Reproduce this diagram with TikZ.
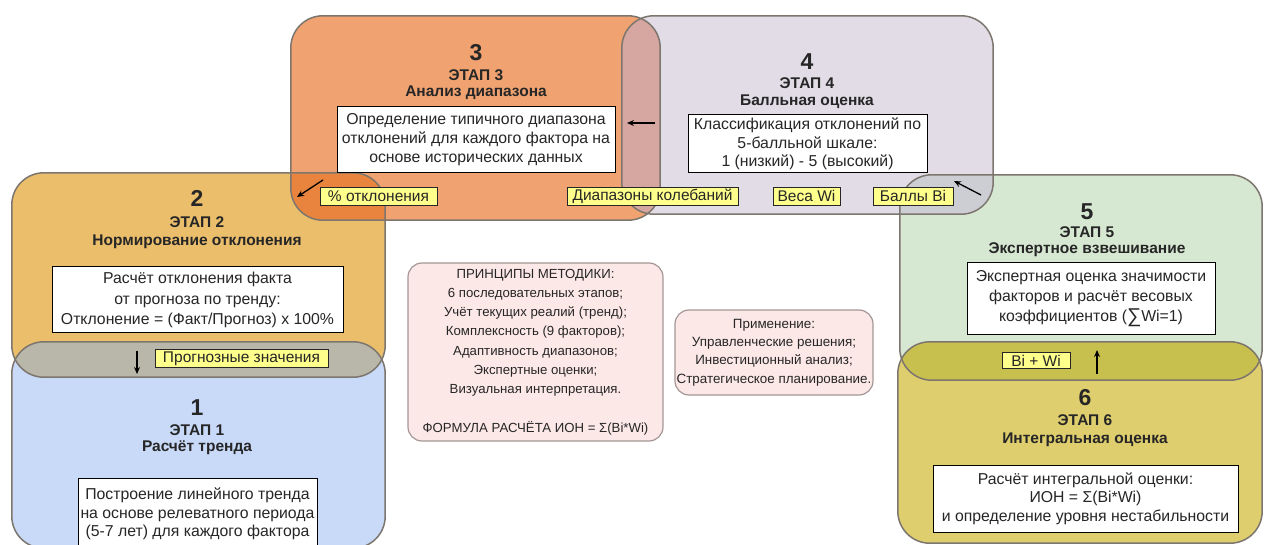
\documentclass[tikz,border=0pt]{standalone}
\usepackage{fontspec}
\setmainfont{Liberation Sans}
\usetikzlibrary{arrows.meta}

% stage fills
\definecolor{stOne}{RGB}{200,218,248}
\definecolor{stTwo}{RGB}{235,190,108}
\definecolor{stThree}{RGB}{240,162,112}
\definecolor{stFour}{RGB}{225,220,230}
\definecolor{stFive}{RGB}{215,232,210}
\definecolor{stSix}{RGB}{222,206,110}
% where two stages overlap
\definecolor{ovOneTwo}{RGB}{185,182,170}
\definecolor{ovTwoThree}{RGB}{232,132,62}
\definecolor{ovThreeFour}{RGB}{214,166,160}
\definecolor{ovFourFive}{RGB}{205,205,212}
\definecolor{ovFiveSix}{RGB}{200,192,78}
\definecolor{edgeGrey}{RGB}{125,118,110}
\definecolor{tagYellow}{RGB}{255,255,140}
\definecolor{notePink}{RGB}{253,232,232}
\definecolor{noteEdge}{RGB}{165,150,150}

\begin{document}
\begin{tikzpicture}[x=1pt,y=-1pt,
  stagefill/.style={rectangle,rounded corners=32pt,inner sep=0pt},
  outline/.style={draw=edgeGrey,line width=1.5pt,rounded corners=32pt},
  num/.style={font=\fontsize{23}{26}\selectfont\bfseries,text=black!85},
  stg/.style={font=\fontsize{15.5}{18}\selectfont\bfseries,text=black!85},
  whitebox/.style={rectangle,draw=black,line width=1pt,fill=white,align=center,
    inner sep=0pt,font=\fontsize{15.8}{19}\selectfont,text=black!85},
  tag/.style={rectangle,draw=black!85,line width=0.9pt,fill=tagYellow,
    inner sep=0pt,minimum height=18pt,font=\fontsize{15.5}{17}\selectfont,text=black!85},
  note/.style={rectangle,rounded corners=14pt,draw=noteEdge,line width=1.2pt,
    fill=notePink,align=center,inner sep=0pt,text=black!85},
  arr/.style={line width=1.3pt,-{Stealth[length=7pt,width=6pt]}}
]
\useasboundingbox (0,0) rectangle (1264,545);

% stage areas
\node[stagefill,fill=stThree,minimum width=369pt,minimum height=204pt] (b3) at (475.5,118) {};
\node[stagefill,fill=stFour,minimum width=371pt,minimum height=198pt] (b4) at (807.5,115) {};
\node[stagefill,fill=stTwo,minimum width=373pt,minimum height=204pt] (b2) at (198.5,275) {};
\node[stagefill,fill=stOne,minimum width=373pt,minimum height=206pt] (b1) at (198.5,445) {};
\node[stagefill,fill=stFive,minimum width=362pt,minimum height=205pt] (b5) at (1081,277.5) {};
\node[stagefill,fill=stSix,minimum width=364pt,minimum height=201pt] (b6) at (1080,442.5) {};

% overlapping parts
\begin{scope}
  \clip[rounded corners=32pt] (b2.south west) rectangle (b2.north east);
  \fill[ovTwoThree,rounded corners=32pt] (b3.south west) rectangle (b3.north east);
\end{scope}
\begin{scope}
  \clip[rounded corners=32pt] (b3.south west) rectangle (b3.north east);
  \fill[ovThreeFour,rounded corners=32pt] (b4.south west) rectangle (b4.north east);
\end{scope}
\begin{scope}
  \clip[rounded corners=32pt] (b4.south west) rectangle (b4.north east);
  \fill[ovFourFive,rounded corners=32pt] (b5.south west) rectangle (b5.north east);
\end{scope}
\begin{scope}
  \clip[rounded corners=32pt] (b1.south west) rectangle (b1.north east);
  \fill[ovOneTwo,rounded corners=32pt] (b2.south west) rectangle (b2.north east);
\end{scope}
\begin{scope}
  \clip[rounded corners=32pt] (b5.south west) rectangle (b5.north east);
  \fill[ovFiveSix,rounded corners=32pt] (b6.south west) rectangle (b6.north east);
\end{scope}

% stage borders
\draw[outline] (b3.south west) rectangle (b3.north east);
\draw[outline] (b4.south west) rectangle (b4.north east);
\draw[outline] (b2.south west) rectangle (b2.north east);
\draw[outline] (b1.south west) rectangle (b1.north east);
\draw[outline] (b5.south west) rectangle (b5.north east);
\draw[outline] (b6.south west) rectangle (b6.north east);

% stage 3
\node[num] (n3) at (476,53) {3};
\node[stg] (s3) at (476,75) {ЭТАП 3};
\node[stg] (t3) at (476,93) {Анализ диапазона};
\node[whitebox,minimum width=278pt,minimum height=66pt] (w3) at (476,140)
  {Определение типичного диапазона\\отклонений для каждого фактора на\\основе исторических данных};

% stage 4
\node[num] (n4) at (807,62) {4};
\node[stg] (s4) at (807,83) {ЭТАП 4};
\node[stg] (t4) at (807,102) {Балльная оценка};
\node[whitebox,minimum width=239pt,minimum height=58pt,
  font=\fontsize{15.8}{18.5}\selectfont] (w4) at (807.5,144)
  {Классификация отклонений по\\5-балльной шкале:\\1 (низкий) - 5 (высокий)};

% stage 2
\node[num] (n2) at (197,198) {2};
\node[stg] (s2) at (197,222) {ЭТАП 2};
\node[stg] (t2) at (197,242) {Нормирование отклонения};
\node[whitebox,minimum width=291pt,minimum height=66pt,
  font=\fontsize{15.8}{20.5}\selectfont] (w2) at (197.5,300)
  {Расчёт отклонения факта\\от прогноза по тренду:\\Отклонение = (Факт/Прогноз) x 100\%};

% stage 1
\node[num] (n1) at (197,408) {1};
\node[stg] (s1) at (197,430) {ЭТАП 1};
\node[stg] (t1) at (197,448) {Расчёт тренда};
\node[whitebox,minimum width=239pt,minimum height=72pt,
  font=\fontsize{15.8}{18.5}\selectfont] (w1) at (197.5,514)
  {Построение линейного тренда\\на основе релеватного периода\\(5-7 лет) для каждого фактора};

% stage 5
\node[num] (n5) at (1087,212) {5};
\node[stg] (s5) at (1087,232) {ЭТАП 5};
\node[stg] (t5) at (1087,250) {Экспертное взвешивание};
\node[whitebox,minimum width=248pt,minimum height=72pt,
  font=\fontsize{15.8}{20}\selectfont] (w5) at (1091,299)
  {Экспертная оценка значимости\\факторов и расчёт весовых\\коэффициентов (\raisebox{-1pt}{\fontsize{20}{20}\selectfont ∑}Wi=1)};

% stage 6
\node[num] (n6) at (1085,398) {6};
\node[stg] (s6) at (1085,420) {ЭТАП 6};
\node[stg] (t6) at (1085,440) {Интегральная оценка};
\node[whitebox,minimum width=305pt,minimum height=67pt,
  font=\fontsize{15.8}{18.5}\selectfont] (w6) at (1085.5,498.5)
  {Расчёт интегральной оценки:\\ИОН = Σ(Bi*Wi)\\и определение уровня нестабильности};

% data passed between stages
\node[tag,minimum width=117pt] (l1) at (378.5,196) {\% отклонения};
\node[tag,minimum width=171pt] (l2) at (652.5,196) {Диапазоны колебаний};
\node[tag,minimum width=67pt] (l3) at (806.5,196) {Веса Wi};
\node[tag,minimum width=80pt] (l4) at (913,196) {Баллы Bi};
\node[tag,minimum width=173pt] (l5) at (241.5,358.5) {Прогнозные значения};
\node[tag,minimum width=68pt,minimum height=16pt] (l6) at (1036,360.5) {Bi + Wi};

\coordinate (a1s) at (323,180);  \coordinate (a1e) at (297,197);
\coordinate (a2s) at (655,123);  \coordinate (a2e) at (627,123);
\coordinate (a3s) at (981,195);  \coordinate (a3e) at (954,181);
\coordinate (a4s) at (137,351);  \coordinate (a4e) at (137,374);
\coordinate (a5s) at (1097,374); \coordinate (a5e) at (1097,350);
\draw[arr] (a1s) -- (a1e);
\draw[arr] (a2s) -- (a2e);
\draw[arr] (a3s) -- (a3e);
\draw[arr] (a4s) -- (a4e);
\draw[arr] (a5s) -- (a5e);

% notes in the middle
\node[note,minimum width=255pt,minimum height=178pt,
  font=\fontsize{13.2}{19.3}\selectfont] (pr) at (535.5,352)
  {ПРИНЦИПЫ МЕТОДИКИ:\\6 последовательных этапов;\\Учёт текущих реалий (тренд);\\Комплексность (9 факторов);\\Адаптивность диапазонов;\\Экспертные оценки;\\Визуальная интерпретация.\\[19.3pt]ФОРМУЛА РАСЧЁТА ИОН = Σ(Bi*Wi)};
\node[note,minimum width=198pt,minimum height=85pt,
  font=\fontsize{13.4}{18.4}\selectfont] (ap) at (774,352.5)
  {Применение:\\Управленческие решения;\\Инвестиционный анализ;\\Стратегическое планирование.};
\end{tikzpicture}
\end{document}
